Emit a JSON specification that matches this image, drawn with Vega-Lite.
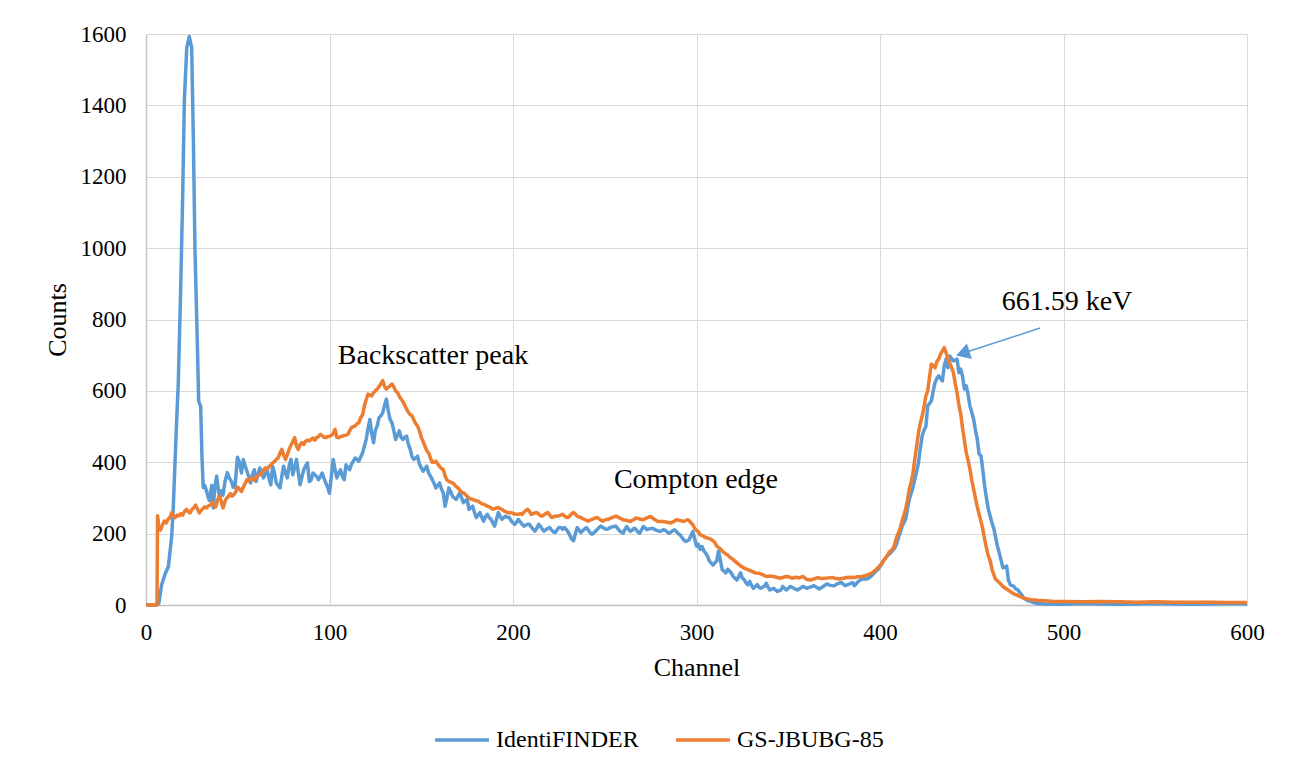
{
"$schema":"https://vega.github.io/schema/vega-lite/v6.json",
"autosize":{"type":"none"},
"width":1101,"height":571,
"padding":{"left":146,"top":34,"right":49,"bottom":166},
"background":"white",
"config":{"view":{"stroke":null},"font":"Liberation Serif","axis":{"labelFont":"Liberation Serif","titleFont":"Liberation Serif"},"legend":{"labelFont":"Liberation Serif"},"text":{"font":"Liberation Serif"}},
"datasets":{
"blue":[{"x":0,"y":0},{"x":3,"y":0},{"x":6,"y":0},{"x":7,"y":5},{"x":8.5,"y":56},{"x":10.4,"y":87},{"x":12.2,"y":108},{"x":14,"y":193},{"x":14.9,"y":277},{"x":16.3,"y":466},{"x":17.6,"y":624},{"x":18.9,"y":887},{"x":20,"y":1150},{"x":20.9,"y":1414},{"x":22.2,"y":1561},{"x":23.6,"y":1593},{"x":24.9,"y":1561},{"x":25.8,"y":1308},{"x":26.7,"y":993},{"x":28,"y":729},{"x":28.7,"y":571},{"x":29.8,"y":556},{"x":30.5,"y":414},{"x":31.2,"y":329},{"x":32,"y":335},{"x":33,"y":319},{"x":34,"y":300},{"x":34.5,"y":293},{"x":35.8,"y":335},{"x":36.7,"y":272},{"x":37.5,"y":330},{"x":38.5,"y":361},{"x":39.5,"y":320},{"x":40.3,"y":298},{"x":41,"y":320},{"x":42,"y":308},{"x":43,"y":345},{"x":44.3,"y":371},{"x":45.5,"y":355},{"x":46.7,"y":345},{"x":47.5,"y":330},{"x":48.5,"y":329},{"x":49.8,"y":414},{"x":51,"y":398},{"x":52,"y":370},{"x":53,"y":408},{"x":54,"y":390},{"x":55,"y":375},{"x":56,"y":360},{"x":57,"y":342},{"x":58,"y":365},{"x":59,"y":379},{"x":60,"y":346},{"x":61,"y":365},{"x":62,"y":384},{"x":63,"y":370},{"x":64,"y":356},{"x":65,"y":368},{"x":66,"y":379},{"x":67,"y":355},{"x":68,"y":337},{"x":69,"y":389},{"x":70,"y":370},{"x":71,"y":342},{"x":72,"y":335},{"x":73,"y":328},{"x":74,"y":360},{"x":75,"y":389},{"x":76,"y":370},{"x":77,"y":356},{"x":78,"y":390},{"x":79,"y":408},{"x":80,"y":365},{"x":81,"y":385},{"x":82,"y":408},{"x":83,"y":370},{"x":84,"y":337},{"x":85,"y":360},{"x":86,"y":379},{"x":87,"y":390},{"x":88,"y":398},{"x":89,"y":346},{"x":90,"y":350},{"x":91,"y":370},{"x":92,"y":365},{"x":93,"y":360},{"x":94,"y":351},{"x":95,"y":360},{"x":96,"y":370},{"x":97,"y":355},{"x":98,"y":342},{"x":99,"y":330},{"x":100,"y":313},{"x":101,"y":360},{"x":102,"y":408},{"x":103,"y":380},{"x":104,"y":356},{"x":105,"y":370},{"x":106,"y":379},{"x":107,"y":360},{"x":108,"y":351},{"x":109,"y":393},{"x":110,"y":385},{"x":111,"y":379},{"x":112,"y":395},{"x":113,"y":403},{"x":114,"y":412},{"x":115,"y":408},{"x":116,"y":403},{"x":117,"y":415},{"x":118,"y":426},{"x":119,"y":445},{"x":120,"y":464},{"x":121,"y":495},{"x":122,"y":520},{"x":123,"y":480},{"x":124,"y":455},{"x":125,"y":490},{"x":126,"y":502},{"x":127,"y":525},{"x":128,"y":530},{"x":129,"y":539},{"x":130,"y":560},{"x":131,"y":577},{"x":132,"y":545},{"x":133,"y":520},{"x":134,"y":511},{"x":135,"y":490},{"x":136,"y":464},{"x":137,"y":475},{"x":138,"y":488},{"x":139,"y":470},{"x":140,"y":464},{"x":141,"y":470},{"x":142,"y":473},{"x":143,"y":450},{"x":144,"y":436},{"x":145,"y":415},{"x":146,"y":408},{"x":147,"y":412},{"x":148,"y":417},{"x":149,"y":395},{"x":150,"y":385},{"x":151,"y":375},{"x":152,"y":382},{"x":153,"y":389},{"x":154,"y":370},{"x":155,"y":361},{"x":156,"y":352},{"x":157,"y":340},{"x":158,"y":328},{"x":159,"y":335},{"x":160,"y":342},{"x":161,"y":325},{"x":162,"y":314},{"x":163,"y":277},{"x":164,"y":300},{"x":165,"y":328},{"x":166,"y":318},{"x":167,"y":305},{"x":168,"y":300},{"x":169,"y":296},{"x":170,"y":305},{"x":171,"y":314},{"x":172,"y":300},{"x":173,"y":287},{"x":174,"y":292},{"x":175,"y":296},{"x":176,"y":268},{"x":177,"y":272},{"x":178,"y":277},{"x":179,"y":260},{"x":180,"y":245},{"x":181,"y":252},{"x":182,"y":259},{"x":183,"y":245},{"x":184,"y":235},{"x":185,"y":248},{"x":186,"y":254},{"x":187,"y":245},{"x":188,"y":240},{"x":189,"y":230},{"x":190,"y":221},{"x":191,"y":240},{"x":192,"y":259},{"x":193,"y":248},{"x":194,"y":240},{"x":195,"y":245},{"x":196,"y":249},{"x":197,"y":246},{"x":198,"y":245},{"x":199,"y":236},{"x":200,"y":230},{"x":201,"y":226},{"x":202,"y":233},{"x":203,"y":240},{"x":204,"y":232},{"x":205,"y":226},{"x":206,"y":221},{"x":207,"y":224},{"x":208,"y":226},{"x":209,"y":226},{"x":210,"y":218},{"x":211,"y":212},{"x":212,"y":207},{"x":213,"y":215},{"x":214,"y":226},{"x":215,"y":220},{"x":216,"y":212},{"x":217,"y":207},{"x":218,"y":211},{"x":219,"y":215},{"x":220,"y":217},{"x":221,"y":210},{"x":222,"y":205},{"x":223,"y":203},{"x":224,"y":210},{"x":225,"y":217},{"x":226,"y":217},{"x":227,"y":212},{"x":228,"y":217},{"x":229,"y":212},{"x":230,"y":205},{"x":231,"y":195},{"x":232,"y":185},{"x":233,"y":180},{"x":234,"y":200},{"x":235,"y":217},{"x":236,"y":210},{"x":237,"y":203},{"x":238,"y":208},{"x":239,"y":213},{"x":240,"y":217},{"x":241,"y":210},{"x":242,"y":203},{"x":243,"y":198},{"x":244,"y":202},{"x":245,"y":207},{"x":246,"y":212},{"x":247,"y":218},{"x":248,"y":221},{"x":249,"y":217},{"x":250,"y":214},{"x":251,"y":212},{"x":252,"y":214},{"x":253,"y":217},{"x":254,"y":219},{"x":255,"y":220},{"x":256,"y":221},{"x":257,"y":215},{"x":258,"y":208},{"x":260,"y":201},{"x":261,"y":212},{"x":262,"y":220},{"x":263,"y":212},{"x":264,"y":206},{"x":265,"y":210},{"x":266,"y":215},{"x":267,"y":212},{"x":268,"y":205},{"x":269,"y":201},{"x":270,"y":210},{"x":271,"y":220},{"x":272,"y":216},{"x":273,"y":211},{"x":274,"y":213},{"x":275,"y":214},{"x":276,"y":215},{"x":277,"y":212},{"x":278,"y":210},{"x":279,"y":208},{"x":280,"y":206},{"x":281,"y":208},{"x":282,"y":211},{"x":283,"y":209},{"x":284,"y":205},{"x":285,"y":201},{"x":286,"y":204},{"x":287,"y":208},{"x":288,"y":211},{"x":289,"y":206},{"x":290,"y":200},{"x":291,"y":197},{"x":292,"y":190},{"x":293,"y":183},{"x":294,"y":178},{"x":295,"y":180},{"x":296,"y":183},{"x":297,"y":195},{"x":298,"y":206},{"x":299,"y":185},{"x":300,"y":165},{"x":301,"y":170},{"x":302,"y":156},{"x":303,"y":164},{"x":304,"y":152},{"x":305,"y":145},{"x":306,"y":137},{"x":307,"y":123},{"x":308,"y":118},{"x":309,"y":112},{"x":310,"y":118},{"x":311,"y":123},{"x":312,"y":151},{"x":313,"y":125},{"x":314,"y":99},{"x":315,"y":95},{"x":316,"y":90},{"x":317,"y":100},{"x":318,"y":95},{"x":319,"y":89},{"x":320,"y":80},{"x":321,"y":75},{"x":322,"y":70},{"x":323,"y":80},{"x":324,"y":90},{"x":325,"y":75},{"x":326,"y":71},{"x":327,"y":62},{"x":328,"y":57},{"x":329,"y":66},{"x":330,"y":55},{"x":331,"y":47},{"x":332,"y":52},{"x":333,"y":57},{"x":334,"y":50},{"x":335,"y":47},{"x":336,"y":50},{"x":337,"y":52},{"x":338,"y":61},{"x":339,"y":50},{"x":340,"y":42},{"x":342,"y":47},{"x":344,"y":38},{"x":346,"y":42},{"x":347,"y":52},{"x":349,"y":42},{"x":351,"y":52},{"x":353,"y":47},{"x":355,"y":42},{"x":358,"y":52},{"x":360,"y":47},{"x":362,"y":50},{"x":364,"y":54},{"x":367,"y":45},{"x":369,"y":52},{"x":371,"y":59},{"x":373,"y":55},{"x":375,"y":54},{"x":377,"y":60},{"x":379,"y":63},{"x":381,"y":54},{"x":383,"y":58},{"x":385,"y":63},{"x":386,"y":54},{"x":388,"y":65},{"x":390,"y":73},{"x":393,"y":73},{"x":395,"y":80},{"x":396,"y":85},{"x":398,"y":96},{"x":399,"y":100},{"x":401,"y":115},{"x":402,"y":125},{"x":404,"y":138},{"x":406,"y":147},{"x":408,"y":160},{"x":409,"y":171},{"x":411,"y":203},{"x":412,"y":220},{"x":414,"y":241},{"x":415,"y":270},{"x":416,"y":297},{"x":418,"y":330},{"x":419,"y":353},{"x":420,"y":375},{"x":421,"y":399},{"x":422,"y":440},{"x":423,"y":474},{"x":424,"y":490},{"x":425,"y":500},{"x":426,"y":558},{"x":427,"y":565},{"x":428,"y":572},{"x":429,"y":600},{"x":430,"y":623},{"x":431,"y":635},{"x":432,"y":642},{"x":433,"y":635},{"x":434,"y":628},{"x":435,"y":670},{"x":436,"y":689},{"x":437,"y":665},{"x":438,"y":698},{"x":439,"y":690},{"x":440,"y":684},{"x":441,"y":686},{"x":442,"y":689},{"x":443,"y":651},{"x":444,"y":661},{"x":445,"y":640},{"x":446,"y":605},{"x":447,"y":614},{"x":448,"y":590},{"x":449,"y":558},{"x":450,"y":540},{"x":451,"y":521},{"x":452,"y":490},{"x":453,"y":465},{"x":454,"y":423},{"x":455,"y":418},{"x":456,"y":380},{"x":457,"y":334},{"x":458,"y":300},{"x":459,"y":269},{"x":460,"y":250},{"x":461,"y":230},{"x":462,"y":215},{"x":463,"y":190},{"x":464,"y":165},{"x":465,"y":146},{"x":466,"y":125},{"x":467,"y":104},{"x":468,"y":106},{"x":469,"y":109},{"x":470,"y":70},{"x":471,"y":57},{"x":472,"y":54},{"x":473,"y":52},{"x":474,"y":45},{"x":475,"y":43},{"x":476,"y":36},{"x":477,"y":30},{"x":478,"y":22},{"x":479,"y":17},{"x":480,"y":14},{"x":482,"y":10},{"x":484,"y":6},{"x":486,"y":4},{"x":490,"y":3},{"x":500,"y":2},{"x":510,"y":4},{"x":520,"y":3},{"x":530,"y":2},{"x":540,"y":3},{"x":550,"y":4},{"x":560,"y":3},{"x":570,"y":2},{"x":580,"y":3},{"x":590,"y":4},{"x":600,"y":3}],
"orange":[{"x":0,"y":0},{"x":3,"y":0},{"x":6,"y":0},{"x":6.3,"y":250},{"x":7,"y":215},{"x":8,"y":210},{"x":9,"y":225},{"x":10,"y":235},{"x":11,"y":230},{"x":12,"y":240},{"x":13,"y":245},{"x":14,"y":258},{"x":15,"y":250},{"x":16,"y":245},{"x":17,"y":252},{"x":18,"y":250},{"x":19,"y":256},{"x":20,"y":252},{"x":21,"y":262},{"x":22,"y":268},{"x":23,"y":262},{"x":24,"y":258},{"x":25,"y":268},{"x":26,"y":272},{"x":27,"y":280},{"x":28,"y":270},{"x":29,"y":258},{"x":30,"y":265},{"x":31,"y":270},{"x":32,"y":275},{"x":33,"y":272},{"x":34,"y":278},{"x":35,"y":280},{"x":36,"y":288},{"x":37,"y":280},{"x":38,"y":275},{"x":39,"y":295},{"x":40,"y":305},{"x":41,"y":290},{"x":42,"y":272},{"x":43,"y":290},{"x":44,"y":300},{"x":45,"y":305},{"x":46,"y":312},{"x":47,"y":305},{"x":48,"y":310},{"x":49,"y":318},{"x":50,"y":330},{"x":51,"y":325},{"x":52,"y":318},{"x":53,"y":330},{"x":54,"y":340},{"x":55,"y":351},{"x":56,"y":348},{"x":57,"y":352},{"x":58,"y":356},{"x":59,"y":350},{"x":60,"y":358},{"x":61,"y":362},{"x":62,"y":365},{"x":63,"y":370},{"x":64,"y":378},{"x":65,"y":384},{"x":66,"y":380},{"x":67,"y":388},{"x":68,"y":392},{"x":69,"y":398},{"x":70,"y":402},{"x":71,"y":408},{"x":72,"y":412},{"x":73,"y":425},{"x":74,"y":436},{"x":75,"y":420},{"x":76,"y":408},{"x":77,"y":420},{"x":78,"y":436},{"x":79,"y":448},{"x":80,"y":458},{"x":81,"y":469},{"x":82,"y":445},{"x":83,"y":436},{"x":84,"y":450},{"x":85,"y":455},{"x":86,"y":450},{"x":87,"y":459},{"x":88,"y":462},{"x":89,"y":460},{"x":90,"y":464},{"x":91,"y":468},{"x":92,"y":462},{"x":93,"y":469},{"x":94,"y":472},{"x":95,"y":478},{"x":96,"y":475},{"x":97,"y":470},{"x":98,"y":469},{"x":99,"y":472},{"x":100,"y":473},{"x":101,"y":475},{"x":102,"y":480},{"x":103,"y":492},{"x":104,"y":470},{"x":105,"y":469},{"x":106,"y":472},{"x":107,"y":473},{"x":108,"y":475},{"x":109,"y":476},{"x":110,"y":478},{"x":111,"y":488},{"x":112,"y":497},{"x":113,"y":500},{"x":114,"y":502},{"x":115,"y":508},{"x":116,"y":511},{"x":117,"y":525},{"x":118,"y":532},{"x":119,"y":558},{"x":120,"y":575},{"x":121,"y":591},{"x":122,"y":588},{"x":123,"y":586},{"x":124,"y":595},{"x":125,"y":600},{"x":126,"y":605},{"x":127,"y":612},{"x":128,"y":620},{"x":129,"y":629},{"x":130,"y":612},{"x":131,"y":605},{"x":132,"y":610},{"x":133,"y":614},{"x":134,"y":619},{"x":135,"y":612},{"x":136,"y":600},{"x":137,"y":596},{"x":138,"y":585},{"x":139,"y":577},{"x":140,"y":570},{"x":141,"y":560},{"x":142,"y":549},{"x":143,"y":540},{"x":144,"y":533},{"x":145,"y":530},{"x":146,"y":518},{"x":147,"y":508},{"x":148,"y":502},{"x":149,"y":488},{"x":150,"y":470},{"x":151,"y":458},{"x":152,"y":445},{"x":153,"y":433},{"x":154,"y":426},{"x":155,"y":412},{"x":156,"y":400},{"x":157,"y":400},{"x":158,"y":403},{"x":159,"y":395},{"x":160,"y":388},{"x":161,"y":382},{"x":162,"y":380},{"x":163,"y":362},{"x":164,"y":350},{"x":165,"y":347},{"x":166,"y":344},{"x":167,"y":342},{"x":168,"y":338},{"x":169,"y":332},{"x":170,"y":328},{"x":171,"y":322},{"x":172,"y":316},{"x":173,"y":314},{"x":174,"y":310},{"x":175,"y":305},{"x":176,"y":300},{"x":177,"y":297},{"x":178,"y":296},{"x":179,"y":294},{"x":180,"y":292},{"x":181,"y":291},{"x":182,"y":287},{"x":183,"y":284},{"x":184,"y":282},{"x":185,"y":280},{"x":186,"y":277},{"x":187,"y":275},{"x":188,"y":272},{"x":189,"y":268},{"x":190,"y":270},{"x":191,"y":272},{"x":192,"y":273},{"x":193,"y":270},{"x":194,"y":268},{"x":195,"y":264},{"x":196,"y":262},{"x":197,"y":259},{"x":198,"y":258},{"x":199,"y":259},{"x":200,"y":257},{"x":201,"y":255},{"x":202,"y":254},{"x":203,"y":254},{"x":204,"y":256},{"x":205,"y":254},{"x":206,"y":260},{"x":207,"y":265},{"x":208,"y":268},{"x":209,"y":262},{"x":210,"y":254},{"x":211,"y":256},{"x":212,"y":258},{"x":213,"y":259},{"x":214,"y":255},{"x":215,"y":250},{"x":216,"y":249},{"x":217,"y":253},{"x":218,"y":257},{"x":219,"y":259},{"x":220,"y":252},{"x":221,"y":245},{"x":222,"y":247},{"x":223,"y":249},{"x":224,"y":249},{"x":225,"y":250},{"x":226,"y":252},{"x":227,"y":254},{"x":228,"y":250},{"x":229,"y":246},{"x":230,"y":245},{"x":231,"y":250},{"x":232,"y":256},{"x":233,"y":259},{"x":234,"y":254},{"x":235,"y":249},{"x":236,"y":247},{"x":237,"y":245},{"x":238,"y":242},{"x":239,"y":240},{"x":240,"y":237},{"x":241,"y":235},{"x":242,"y":238},{"x":243,"y":240},{"x":244,"y":242},{"x":245,"y":244},{"x":246,"y":245},{"x":247,"y":241},{"x":248,"y":237},{"x":249,"y":235},{"x":250,"y":238},{"x":251,"y":240},{"x":252,"y":240},{"x":253,"y":243},{"x":254,"y":245},{"x":255,"y":247},{"x":256,"y":249},{"x":257,"y":247},{"x":258,"y":244},{"x":260,"y":239},{"x":262,"y":237},{"x":264,"y":234},{"x":266,"y":240},{"x":267,"y":244},{"x":269,"y":241},{"x":271,"y":239},{"x":273,"y":244},{"x":275,"y":248},{"x":277,"y":240},{"x":279,"y":234},{"x":282,"y":234},{"x":284,"y":232},{"x":286,"y":230},{"x":288,"y":235},{"x":289,"y":239},{"x":291,"y":237},{"x":293,"y":234},{"x":295,"y":239},{"x":296,"y":236},{"x":298,"y":225},{"x":299,"y":215},{"x":300,"y":209},{"x":301,"y":205},{"x":302,"y":197},{"x":304,"y":192},{"x":305,"y":189},{"x":307,"y":186},{"x":308,"y":184},{"x":310,"y":175},{"x":311,"y":165},{"x":313,"y":158},{"x":314,"y":151},{"x":316,"y":143},{"x":317,"y":140},{"x":318,"y":135},{"x":320,"y":127},{"x":322,"y":118},{"x":324,"y":110},{"x":326,"y":103},{"x":328,"y":99},{"x":330,"y":95},{"x":332,"y":90},{"x":334,"y":89},{"x":336,"y":85},{"x":338,"y":80},{"x":340,"y":81},{"x":342,"y":80},{"x":344,"y":77},{"x":346,"y":75},{"x":348,"y":79},{"x":350,"y":80},{"x":352,"y":75},{"x":354,"y":78},{"x":356,"y":76},{"x":358,"y":80},{"x":360,"y":72},{"x":362,"y":70},{"x":364,"y":73},{"x":366,"y":77},{"x":368,"y":74},{"x":370,"y":75},{"x":372,"y":76},{"x":374,"y":77},{"x":376,"y":74},{"x":378,"y":73},{"x":380,"y":75},{"x":382,"y":77},{"x":384,"y":78},{"x":386,"y":77},{"x":388,"y":79},{"x":390,"y":80},{"x":392,"y":82},{"x":394,"y":86},{"x":396,"y":91},{"x":398,"y":100},{"x":399,"y":105},{"x":401,"y":117},{"x":402,"y":125},{"x":404,"y":138},{"x":405,"y":148},{"x":407,"y":157},{"x":408,"y":170},{"x":409,"y":189},{"x":411,"y":215},{"x":412,"y":235},{"x":414,"y":269},{"x":415,"y":295},{"x":416,"y":325},{"x":417,"y":345},{"x":418,"y":371},{"x":419,"y":410},{"x":420,"y":446},{"x":421,"y":483},{"x":422,"y":510},{"x":423,"y":530},{"x":424,"y":555},{"x":425,"y":586},{"x":426,"y":600},{"x":427,"y":640},{"x":428,"y":675},{"x":429,"y":670},{"x":430,"y":665},{"x":431,"y":682},{"x":432,"y":689},{"x":433,"y":703},{"x":434,"y":712},{"x":435,"y":721},{"x":436,"y":707},{"x":437,"y":690},{"x":438,"y":679},{"x":439,"y":665},{"x":440,"y":651},{"x":441,"y":620},{"x":442,"y":595},{"x":443,"y":560},{"x":444,"y":535},{"x":445,"y":495},{"x":446,"y":460},{"x":447,"y":427},{"x":448,"y":405},{"x":449,"y":381},{"x":450,"y":350},{"x":451,"y":325},{"x":452,"y":300},{"x":453,"y":275},{"x":454,"y":255},{"x":455,"y":235},{"x":456,"y":213},{"x":457,"y":185},{"x":458,"y":160},{"x":459,"y":138},{"x":460,"y":125},{"x":461,"y":101},{"x":462,"y":85},{"x":463,"y":72},{"x":465,"y":63},{"x":467,"y":52},{"x":469,"y":45},{"x":471,"y":38},{"x":473,"y":31},{"x":475,"y":27},{"x":478,"y":20},{"x":482,"y":15},{"x":486,"y":13},{"x":490,"y":12},{"x":495,"y":10},{"x":500,"y":10},{"x":510,"y":9},{"x":520,"y":10},{"x":530,"y":9},{"x":540,"y":8},{"x":550,"y":9},{"x":560,"y":8},{"x":570,"y":8},{"x":580,"y":8},{"x":590,"y":7},{"x":600,"y":7}],
"notes":[{"x":156.4,"y":697,"t":"Backscatter peak"},{"x":299.7,"y":350,"t":"Compton edge"},{"x":501.9,"y":849,"t":"661.59 keV"}],
"arrow":[{"x":487.2,"y":776,"x2":445.6,"y2":706}],
"head":[{"x":445.1,"y":705}]
},
"encoding":{
"x":{"field":"x","type":"quantitative","scale":{"domain":[0,600],"nice":false,"zero":false},
"axis":{"values":[0,100,200,300,400,500,600],"format":"d","grid":true,"gridColor":"#D9D9D9","gridWidth":1,"ticks":false,"domainColor":"#BFBFBF","domainWidth":1.5,"labelFont":"Liberation Serif","labelFontSize":23,"labelColor":"#000000","labelPadding":16,"labelFlush":false,"title":"Channel","titleFont":"Liberation Serif","titleFontSize":26,"titleFontWeight":"normal","titleColor":"#000000","titlePadding":10}},
"y":{"field":"y","type":"quantitative","scale":{"domain":[0,1600],"nice":false},
"axis":{"values":[0,200,400,600,800,1000,1200,1400,1600],"format":"d","grid":true,"gridColor":"#D9D9D9","gridWidth":1,"ticks":false,"domainColor":"#C8C8C8","domainWidth":1.5,"labelFont":"Liberation Serif","labelFontSize":23,"labelColor":"#000000","labelPadding":20,"labelFlush":false,"title":"Counts","titleFont":"Liberation Serif","titleFontSize":26,"titleFontWeight":"normal","titleColor":"#000000","titlePadding":10}}
},
"layer":[
{"data":{"name":"blue"},"mark":{"type":"line","strokeWidth":3.5,"strokeJoin":"round"},
"encoding":{"color":{"datum":"IdentiFINDER","type":"nominal","scale":{"domain":["IdentiFINDER","GS-JBUBG-85"],"range":["#5B9BD5","#ED7D31"]},
"legend":{"title":null,"orient":"none","legendX":287,"legendY":677,"direction":"horizontal","symbolType":"stroke","symbolStrokeWidth":3.5,"symbolSize":2900,"labelFont":"Liberation Serif","labelFontSize":24,"labelColor":"#000000","labelOffset":5,"columnPadding":30}}}},
{"data":{"name":"orange"},"mark":{"type":"line","strokeWidth":3.5,"strokeJoin":"round"},
"encoding":{"color":{"datum":"GS-JBUBG-85","type":"nominal"}}},
{"data":{"name":"arrow"},"mark":{"type":"rule","color":"#5B9BD5","strokeWidth":1.5},
"encoding":{"x2":{"field":"x2"},"y2":{"field":"y2"}}},
{"data":{"name":"head"},"mark":{"type":"point","shape":"triangle-up","angle":252,"filled":true,"opacity":1,"size":260,"color":"#5B9BD5"},"encoding":{}},
{"data":{"name":"notes"},"mark":{"type":"text","font":"Liberation Serif","fontSize":28,"color":"#000000","align":"center","baseline":"middle"},
"encoding":{"text":{"field":"t"}}}
]
}
